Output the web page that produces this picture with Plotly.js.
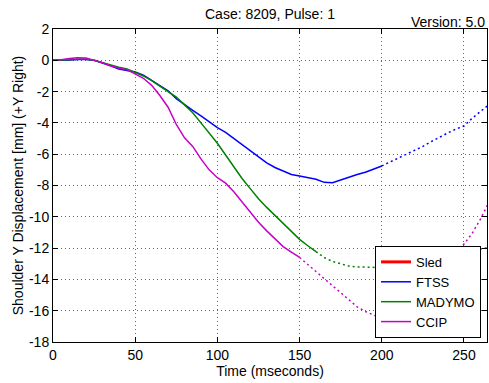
<!DOCTYPE html>
<html><head><meta charset="utf-8">
<script src="https://cdn.plot.ly/plotly-3.0.1.min.js"></script>
<style>html,body{margin:0;padding:0;background:#fff}#chart{width:489px;height:383px}</style>
</head><body><div id="chart"></div>
<script>
// Time (ms)
const ftssT = [0,5,10,15,20,25,30,35,40,45,50,55,60,65,70,75,80,85,90,95,100,105,110,115,120,125,130,135,140,145,150,155,160,165,170,175,180,185,190,195,200];
const ftssY = [0,0,0.02,0.05,0.05,0,-0.15,-0.35,-0.55,-0.65,-0.75,-0.95,-1.3,-1.65,-1.95,-2.45,-2.85,-3.2,-3.55,-3.95,-4.3,-4.6,-5.0,-5.4,-5.8,-6.2,-6.55,-6.85,-7.05,-7.3,-7.4,-7.5,-7.6,-7.8,-7.82,-7.65,-7.45,-7.3,-7.15,-6.95,-6.75];
const ftssExtT = [200,205,210,215,220,225,230,235,240,245,250,255,260,265];
const ftssExtY = [-6.75,-6.5,-6.3,-6.05,-5.75,-5.5,-5.2,-4.9,-4.65,-4.4,-4.2,-3.7,-3.25,-2.85];

const madT = [0,5,10,15,20,25,30,35,40,45,50,55,60,65,70,75,80,85,90,95,100,105,110,115,120,125,130,135,140,145,150,155,160];
const madY = [0,0,0.03,0.07,0.07,0,-0.15,-0.3,-0.45,-0.55,-0.75,-1.0,-1.3,-1.65,-2.0,-2.35,-2.85,-3.35,-4.0,-4.65,-5.3,-6.05,-6.8,-7.55,-8.2,-8.85,-9.4,-9.9,-10.42,-10.95,-11.44,-11.85,-12.23];
const madExtT = [160,165,170,175,180,185,190,195,200,205,210,215,220,225,230,235,240,245,250,255,260,265];
const madExtY = [-12.23,-12.6,-12.85,-13.0,-13.15,-13.2,-13.22,-13.23,-13.25,-13.3,-13.3,-13.3,-13.25,-13.15,-13.0,-12.8,-12.6,-12.42,-12.3,-12.2,-12.1,-11.95];

const ccipT = [0,5,10,15,20,25,30,35,40,45,50,55,60,65,70,75,80,85,90,95,100,105,110,115,120,125,130,135,140,145,150];
const ccipY = [0,0.03,0.12,0.17,0.15,0.02,-0.15,-0.35,-0.5,-0.6,-0.85,-1.15,-1.6,-2.25,-3.0,-4.1,-4.95,-5.5,-6.3,-7.0,-7.5,-7.85,-8.4,-9.05,-9.7,-10.35,-10.9,-11.4,-11.9,-12.25,-12.6];
const ccipExtT = [150,155,160,165,170,175,180,185,190,195,200,205,210,215,220,225,230,235,240,245,250,255,260,265];
const ccipExtY = [-12.6,-13.05,-13.5,-13.95,-14.4,-14.9,-15.35,-15.75,-16.05,-16.3,-16.5,-16.6,-16.55,-16.3,-15.9,-15.3,-14.5,-13.6,-12.75,-12.2,-11.75,-11.05,-10.15,-9.1];

// Sled has no plotted data (legend entry only)
const sledT = [null];
const sledY = [null];

const xTicks = [0,50,100,150,200,250];
const yTicks = [2,0,-2,-4,-6,-8,-10,-12,-14,-16,-18];

const FONT = 'Arial, "Liberation Sans", sans-serif';
const dotDash = '2px,3px';

const traces = [
  {x: sledT, y: sledY, name: 'Sled', mode: 'lines', line: {color: '#ff0000', width: 3}},
  {x: ftssT, y: ftssY, name: 'FTSS', mode: 'lines', line: {color: '#0000ff', width: 1.5}},
  {x: madT, y: madY, name: 'MADYMO', mode: 'lines', line: {color: '#008000', width: 1.5}},
  {x: ccipT, y: ccipY, name: 'CCIP', mode: 'lines', line: {color: '#c800c8', width: 1.5}},
  {x: ftssExtT, y: ftssExtY, mode: 'lines', showlegend: false, line: {color: '#0000ff', width: 1.5, dash: dotDash}},
  {x: madExtT, y: madExtY, mode: 'lines', showlegend: false, line: {color: '#008000', width: 1.5, dash: dotDash}},
  {x: ccipExtT, y: ccipExtY, mode: 'lines', showlegend: false, line: {color: '#c800c8', width: 1.5, dash: dotDash}}
];

const axisCommon = {
  showline: true, linecolor: '#000', linewidth: 1, mirror: 'allticks',
  ticks: 'inside', ticklen: 5, tickcolor: '#000', tickwidth: 1,
  showgrid: true, gridcolor: '#666', gridwidth: 1, griddash: '1px,3px',
  zeroline: false, tickfont: {family: FONT, size: 14, color: '#000'}
};

const layout = {
  width: 489, height: 383,
  margin: {l: 53, r: 2, t: 29, b: 41},
  paper_bgcolor: '#fff', plot_bgcolor: '#fff',
  font: {family: FONT, size: 14, color: '#000'},
  showlegend: true,
  title: {text: 'Case: 8209, Pulse: 1', font: {family: FONT, size: 14, color: '#000'},
          xref: 'paper', x: 0.5, xanchor: 'center', yref: 'container', y: 0.963, yanchor: 'middle'},
  xaxis: Object.assign({}, axisCommon, {
    range: [0, 264], tickvals: xTicks, ticktext: xTicks.map(String),
    title: {text: 'Time (mseconds)', font: {family: FONT, size: 14, color: '#000'}, standoff: 0}
  }),
  yaxis: Object.assign({}, axisCommon, {
    range: [-18, 2], tickvals: yTicks, ticktext: yTicks.map(String),
    title: {text: 'Shoulder Y Displacement [mm] (+Y Right)', font: {family: FONT, size: 14, color: '#000'}, standoff: 2}
  }),
  legend: {
    x: 0.742, y: 0.013, xanchor: 'left', yanchor: 'bottom',
    bgcolor: '#fff', bordercolor: '#000', borderwidth: 1,
    font: {family: FONT, size: 13, color: '#000'}, itemwidth: 30, tracegroupgap: 0
  },
  annotations: [{
    text: 'Version: 5.0', xref: 'paper', yref: 'paper', x: 1, y: 1.022,
    xanchor: 'right', yanchor: 'middle', showarrow: false,
    font: {family: FONT, size: 14, color: '#000'}
  }]
};

Plotly.newPlot('chart', traces, layout, {displayModeBar: false, staticPlot: true});
</script>
</body></html>
